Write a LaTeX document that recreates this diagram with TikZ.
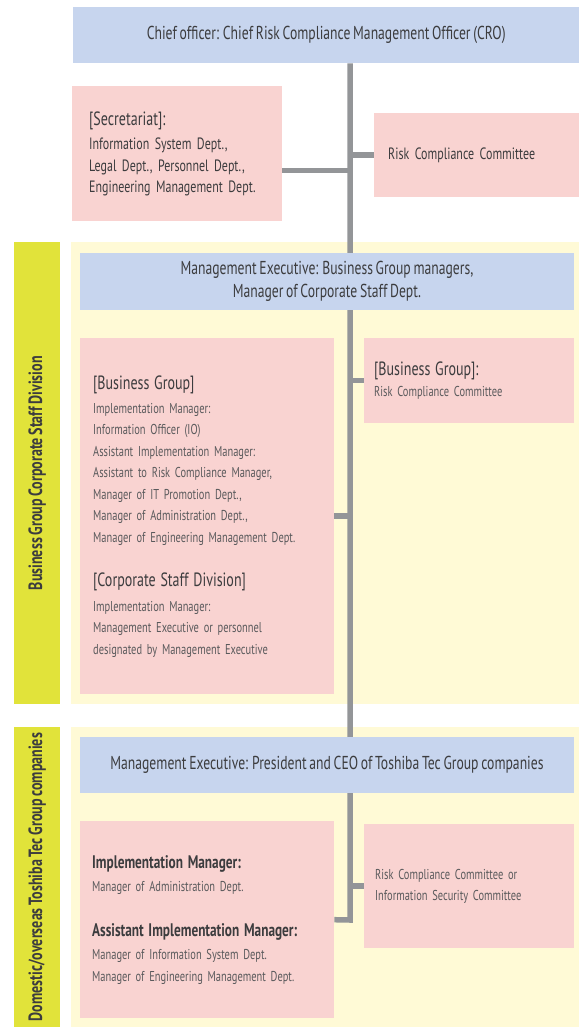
\documentclass[tikz,border=0pt]{standalone}
\usepackage{fontspec}
\setmainfont{PT Sans}[FakeStretch=0.73,WordSpace=0.75]
\usetikzlibrary{positioning}

\definecolor{headblue}{HTML}{C7D5EE}
\definecolor{boxpink}{HTML}{F9D3D1}
\definecolor{zoneyellow}{HTML}{FFFAD6}
\definecolor{tabyellow}{HTML}{E1E33A}
\definecolor{linkgray}{HTML}{939598}
\definecolor{inkdark}{HTML}{3C3C3E}
\definecolor{inklight}{HTML}{5A5A5C}

\pgfdeclarelayer{bg}
\pgfdeclarelayer{links}
\pgfsetlayers{bg,links,main}

\newcommand{\bighead}[1]{{\fontsize{19.2}{21.5}\selectfont\color{inkdark}#1}}
\newcommand{\midhead}[1]{{\fontsize{18.2}{21.5}\selectfont\bfseries\color{inkdark}#1}}

\tikzset{
headbox/.style={fill=headblue,anchor=north west,inner sep=0pt,
  align=center,text=inkdark,font=\fontsize{18.7}{23}\selectfont},
pinkbox/.style={fill=boxpink,anchor=north west,inner ysep=0pt,
  align=left,text=inklight,font=\fontsize{14.3}{21.5}\selectfont},
darktext/.style={text=inkdark,font=\fontsize{16.4}{21.5}\selectfont},
zone/.style={fill=zoneyellow,anchor=north west,inner sep=0pt},
tab/.style={fill=tabyellow,anchor=north west,inner sep=0pt},
tablabel/.style={rotate=90,text=inkdark,font=\fontsize{19.2}{20}\selectfont\bfseries},
link/.style={draw=linkgray,line width=5.5pt}
}

\begin{document}
\begin{tikzpicture}[x=1pt,y=-1pt]

\useasboundingbox (0,0) rectangle (579,1027);

% Bands
\begin{pgfonlayer}{bg}
\node[zone,minimum width=508,minimum height=462] (zoneA) at (71,242) {};
\node[tab,minimum width=46,minimum height=462] (tabA) at (14,242) {};
\node[zone,minimum width=508,minimum height=300] (zoneB) at (71,727) {};
\node[tab,minimum width=46,minimum height=300] (tabB) at (14,727) {};
\end{pgfonlayer}

\node[tablabel] (tabAtext) at (tabA.center)
{Business Group Corporate Staff Division};

\node[tablabel] (tabBtext) at (tabB.center)
{Domestic/overseas Toshiba Tec Group companies};

% Chief officer
\node[headbox,minimum width=506,minimum height=56] (cro) at (73,7)
{Chief officer: Chief Risk Compliance Management Officer (CRO)};

\node[pinkbox,darktext,text width=176,inner xsep=17,minimum height=135] (secr) at (72,86)
{\bighead{[Secretariat]:}\\[3pt]
Information System Dept.,\\
Legal Dept., Personnel Dept.,\\
Engineering Management Dept.};

\node[pinkbox,darktext,text width=177,inner xsep=14,minimum height=84] (rcc) at (374,113)
{Risk Compliance Committee};

% Business Group / Corporate Staff Division
\node[headbox,minimum width=493.5,minimum height=57] (mgmtA) at (80,253)
{Management Executive: Business Group managers,\\
Manager of Corporate Staff Dept.};

\node[pinkbox,text width=228,inner xsep=13,minimum height=356] (bgleft) at (80,338)
{\bighead{[Business Group]}\\[2.5pt]
Implementation Manager:\\
Information Officer (IO)\\
Assistant Implementation Manager:\\
Assistant to Risk Compliance Manager,\\
Manager of IT Promotion Dept.,\\
Manager of Administration Dept.,\\
Manager of Engineering Management Dept.\\[23pt]
\bighead{[Corporate Staff Division]}\\[3pt]
Implementation Manager:\\
Management Executive or personnel\\
designated by Management Executive};

\node[pinkbox,text width=189.5,inner xsep=10,minimum height=85] (bgcom) at (364,338)
{\bighead{[Business Group]:}\\
Risk Compliance Committee};

% Group companies
\node[headbox,minimum width=493.5,minimum height=56] (mgmtB) at (80,737)
{Management Executive: President and CEO of Toshiba Tec Group companies};

\node[pinkbox,text width=230,inner xsep=12,minimum height=197] (botleft) at (80,821)
{\midhead{Implementation Manager:}\\[2pt]
Manager of Administration Dept.\\[23pt]
\midhead{Assistant Implementation Manager:}\\[2pt]
Manager of Information System Dept.\\
Manager of Engineering Management Dept.};

\node[pinkbox,text width=187.5,inner xsep=11,minimum height=124] (botright) at (364,824)
{Risk Compliance Committee or\\
Information Security Committee};

% Connectors
\coordinate (elbow) at (350,920);

\begin{pgfonlayer}{links}
\draw[link] (cro.south -| elbow) -- (elbow) -- (botleft.east);
\draw[link] ([yshift=-17pt]secr.east) -- ([yshift=-17pt]secr.east -| elbow);
\draw[link] (rcc.west -| elbow) -- (rcc.west);
\draw[link] (bgleft.east) -- (bgleft.east -| elbow);
\draw[link] (bgcom.west -| elbow) -- (bgcom.west);
\draw[link] (botright.west -| elbow) -- (botright.west);
\end{pgfonlayer}

\end{tikzpicture}
\end{document}
